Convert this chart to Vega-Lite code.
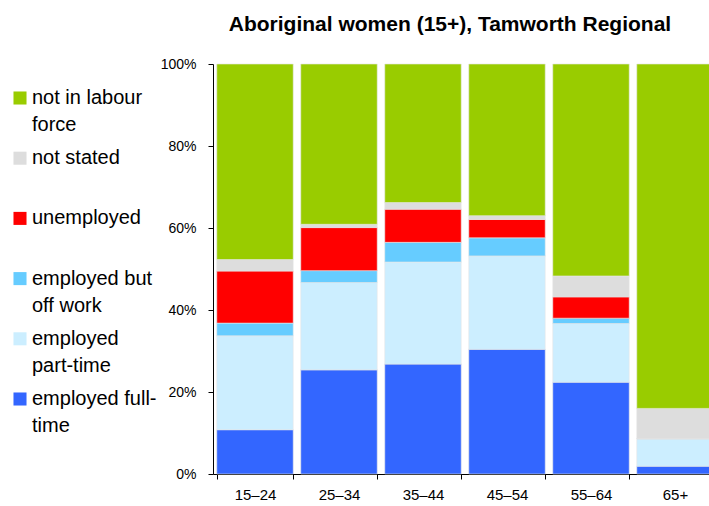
{
  "$schema": "https://vega.github.io/schema/vega-lite/v6.json",
  "autosize": "none",
  "padding": {"left": 213, "top": 64, "right": 0, "bottom": 32},
  "width": 504,
  "height": 410,
  "background": "white",
  "title": {"text": "Aboriginal women (15+), Tamworth Regional", "font": "Liberation Sans", "fontSize": 21, "fontWeight": "bold", "color": "black", "anchor": "middle", "dx": -15, "offset": 22},
  "data": {"values": [
    {"age": "15–24", "status": "employed full-time", "pct": 10.8},
    {"age": "15–24", "status": "employed part-time", "pct": 22.9},
    {"age": "15–24", "status": "employed but off work", "pct": 3.1},
    {"age": "15–24", "status": "unemployed", "pct": 12.7},
    {"age": "15–24", "status": "not stated", "pct": 2.8},
    {"age": "15–24", "status": "not in labour force", "pct": 47.7},
    {"age": "25–34", "status": "employed full-time", "pct": 25.4},
    {"age": "25–34", "status": "employed part-time", "pct": 21.3},
    {"age": "25–34", "status": "employed but off work", "pct": 2.9},
    {"age": "25–34", "status": "unemployed", "pct": 10.5},
    {"age": "25–34", "status": "not stated", "pct": 0.8},
    {"age": "25–34", "status": "not in labour force", "pct": 39.1},
    {"age": "35–44", "status": "employed full-time", "pct": 26.8},
    {"age": "35–44", "status": "employed part-time", "pct": 24.9},
    {"age": "35–44", "status": "employed but off work", "pct": 4.8},
    {"age": "35–44", "status": "unemployed", "pct": 8.1},
    {"age": "35–44", "status": "not stated", "pct": 1.6},
    {"age": "35–44", "status": "not in labour force", "pct": 33.8},
    {"age": "45–54", "status": "employed full-time", "pct": 30.4},
    {"age": "45–54", "status": "employed part-time", "pct": 22.8},
    {"age": "45–54", "status": "employed but off work", "pct": 4.4},
    {"age": "45–54", "status": "unemployed", "pct": 4.5},
    {"age": "45–54", "status": "not stated", "pct": 0.9},
    {"age": "45–54", "status": "not in labour force", "pct": 37.0},
    {"age": "55–64", "status": "employed full-time", "pct": 22.4},
    {"age": "55–64", "status": "employed part-time", "pct": 14.3},
    {"age": "55–64", "status": "employed but off work", "pct": 1.3},
    {"age": "55–64", "status": "unemployed", "pct": 5.2},
    {"age": "55–64", "status": "not stated", "pct": 5.1},
    {"age": "55–64", "status": "not in labour force", "pct": 51.7},
    {"age": "65+", "status": "employed full-time", "pct": 1.9},
    {"age": "65+", "status": "employed part-time", "pct": 6.7},
    {"age": "65+", "status": "employed but off work", "pct": 0},
    {"age": "65+", "status": "unemployed", "pct": 0},
    {"age": "65+", "status": "not stated", "pct": 7.4},
    {"age": "65+", "status": "not in labour force", "pct": 84.0}
  ]},
  "transform": [
    {"calculate": "indexof(['employed full-time', 'employed part-time', 'employed but off work', 'unemployed', 'not stated', 'not in labour force'], datum.status)", "as": "stackOrder"}
  ],
  "mark": {"type": "bar", "stroke": "#e6e6e6", "strokeWidth": 0.6},
  "encoding": {
    "x": {
      "field": "age", "type": "nominal", "sort": null,
      "scale": {"paddingInner": 0.09, "paddingOuter": 0.045},
      "axis": {"title": null, "labelAngle": 0, "tickBand": "extent", "domainColor": "black", "tickColor": "black", "tickSize": 5, "labelFont": "Liberation Sans", "labelFontSize": 15, "labelColor": "black", "labelPadding": 8}
    },
    "y": {
      "field": "pct", "type": "quantitative", "stack": "normalize",
      "scale": {"domain": [0, 1]},
      "axis": {"title": null, "format": ".0%", "values": [0, 0.2, 0.4, 0.6, 0.8, 1], "grid": false, "domainColor": "black", "tickColor": "black", "tickSize": 5, "labelFont": "Liberation Sans", "labelFontSize": 14, "labelColor": "black", "labelPadding": 12}
    },
    "color": {
      "field": "status", "type": "nominal",
      "sort": ["not in labour force", "not stated", "unemployed", "employed but off work", "employed part-time", "employed full-time"],
      "scale": {
        "domain": ["not in labour force", "not stated", "unemployed", "employed but off work", "employed part-time", "employed full-time"],
        "range": ["#99cc00", "#dddddd", "#ff0000", "#66ccff", "#cceeff", "#3366ff"]
      },
      "legend": {
        "title": null, "orient": "none", "legendX": -203, "legendY": 24,
        "symbolType": "square", "symbolSize": 170, "symbolStrokeWidth": 0,
        "labelFont": "Liberation Sans", "labelFontSize": 20, "labelColor": "black", "labelOffset": 2, "labelLimit": 300,
        "rowPadding": 13.2,
        "labelExpr": "datum.label == 'not in labour force' ? ['not in labour', 'force'] : datum.label == 'employed but off work' ? ['employed but', 'off work'] : datum.label == 'employed part-time' ? ['employed', 'part-time'] : datum.label == 'employed full-time' ? ['employed full-', 'time'] : [datum.label, ' ']"
      }
    },
    "order": {"field": "stackOrder", "type": "quantitative", "sort": "ascending"}
  },
  "config": {
    "view": {"stroke": null},
    "style": {"guide-label": {"lineHeight": 27}}
  }
}
